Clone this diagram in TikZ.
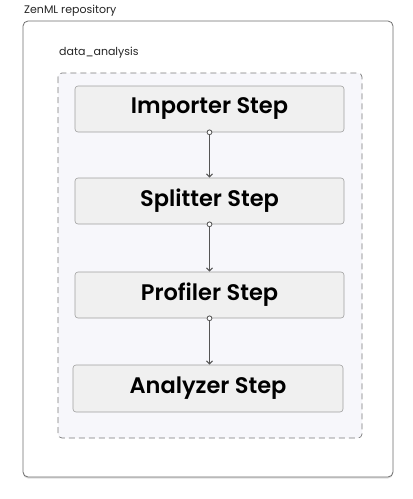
\documentclass[tikz,border=0pt]{standalone}
\usepackage{fontspec}
\setmainfont{Poppins}[BoldFont={Poppins SemiBold}]
\usetikzlibrary{arrows.meta,shadows}
\definecolor{outerline}{HTML}{6E6E6E}
\definecolor{dashline}{HTML}{7A7A7A}
\definecolor{groupfill}{HTML}{F7F7FB}
\definecolor{stepfill}{HTML}{F0F0F0}
\definecolor{stepline}{HTML}{A0A0A0}
\definecolor{connline}{HTML}{555555}
\tikzset{
  outerbox/.style={draw=outerline, line width=0.8pt, fill=white, rounded corners=5pt,
    drop shadow={opacity=0.25, shadow xshift=0pt, shadow yshift=-1.5pt}},
  groupbox/.style={draw=dashline, line width=0.7pt, dash pattern=on 6pt off 4pt, fill=groupfill, rounded corners=4pt},
  stepbox/.style={draw=stepline, line width=0.6pt, fill=stepfill, rounded corners=3pt,
    minimum width=269pt, minimum height=46pt, inner sep=0pt,
    font=\fontsize{22.5}{26}\selectfont\bfseries, text=black},
  lbl/.style={anchor=west, inner sep=0pt, font=\fontsize{11}{13}\selectfont, text=black!85},
  conn/.style={draw=connline, line width=1.2pt, -{Straight Barb[length=3pt,width=6pt]}},
  dot/.style={draw=connline, line width=0.8pt, fill=white}
}
\begin{document}
\begin{tikzpicture}[x=1pt,y=-1pt]
\useasboundingbox (0,0) rectangle (413,499);
\path[outerbox] (23,21) rectangle (393,477);
\node[lbl] (repo) at (24,11) {ZenML repository};
\path[groupbox] (58,73) rectangle (362,438);
\node[lbl] (grp) at (59,53) {data\_analysis};
\node[stepbox] (imp) at (209.5,109) {Importer Step};
\node[stepbox] (spl) at (209.5,201) {Splitter Step};
\node[stepbox] (pro) at (209.5,295) {Profiler Step};
\node[stepbox, minimum width=270pt, minimum height=47pt] (ana) at (208,388.5) {Analyzer Step};
\draw[conn] (imp.south) -- (spl.north);
\draw[conn] (spl.south) -- (pro.north);
\draw[conn] (pro.south) -- (pro.south |- ana.north);
\draw[dot] (imp.south) circle (2.4pt);
\draw[dot] (spl.south) circle (2.4pt);
\draw[dot] (pro.south) circle (2.4pt);
\end{tikzpicture}
\end{document}
